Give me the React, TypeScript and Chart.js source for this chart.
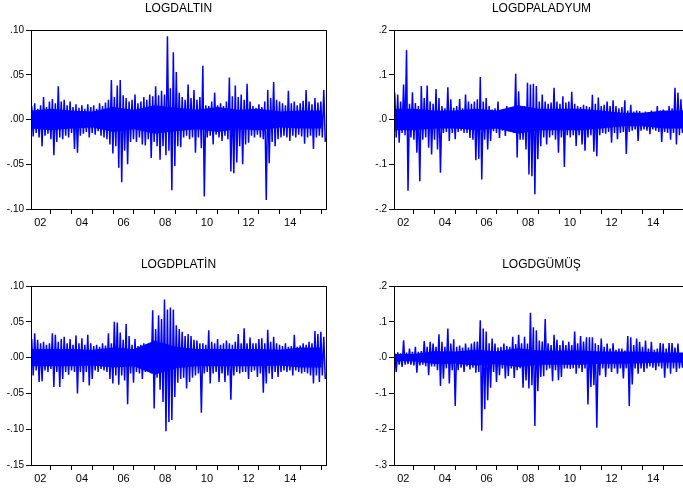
import React, { useEffect, useRef } from 'react';
import { Chart, registerables } from 'chart.js';

Chart.register(...registerables);

// ---- Time axis (years) ----
const X_MIN = 2002.054;
const X_MAX = 2016.22;
const TICK_YEARS = [2003, 2004, 2005, 2006, 2007, 2008, 2009, 2010, 2011, 2012, 2013, 2014, 2015, 2016];
const LABEL_YEARS = [2002, 2004, 2006, 2008, 2010, 2012, 2014];
const LABEL_TEXT = ['02', '04', '06', '08', '10', '12', '14'];
const CORE_YEARS = [2002, 2003, 2004, 2005, 2006, 2007, 2008, 2009, 2010, 2011, 2012, 2013, 2014, 2015, 2016];

// ---- Series: per-period highs and lows of daily log returns ----
const goldHi = [
  .015, .018, .012, .016, .025, .014, .020, .023, .018, .037,
  .020, .022, .016, .020, .014, .017, .013, .016, .012, .017,
  .014, .016, .012, .018, .015, .019, .022, .044, .025, .038,
  .044, .027, .024, .020, .022, .028, .018, .020, .025, .022,
  .028, .026, .037, .027, .032, .028, .093, .035, .075, .053,
  .030, .025, .022, .039, .024, .033, .022, .025, .060, .016,
  .015, .020, .030, .016, .018, .015, .020, .047, .026, .038,
  .025, .028, .022, .040, .020, .015, .013, .017, .014, .020,
  .033, .024, .042, .022, .020, .018, .016, .032, .018, .020,
  .016, .018, .021, .033, .020, .017, .024, .019, .020, .033,
];
const goldLo = [
  -.019, -.015, -.020, -.030, -.018, -.016, -.022, -.040, -.025, -.020,
  -.022, -.018, -.020, -.015, -.033, -.037, -.018, -.016, -.014, -.020,
  -.015, -.017, -.013, -.018, -.020, -.022, -.028, -.038, -.030, -.054,
  -.070, -.035, -.050, -.025, -.022, -.025, -.020, -.028, -.029, -.022,
  -.043, -.025, -.030, -.045, -.030, -.040, -.035, -.079, -.052, -.030,
  -.031, -.020, -.018, -.022, -.020, -.037, -.020, -.032, -.086, -.020,
  -.018, -.028, -.017, -.020, -.024, -.018, -.022, -.058, -.060, -.048,
  -.030, -.050, -.028, -.026, -.018, -.020, -.017, -.020, -.022, -.090,
  -.049, -.025, -.030, -.022, -.020, -.018, -.020, -.024, -.018, -.020,
  -.017, -.019, -.027, -.020, -.018, -.033, -.020, -.018, -.020, -.025,
];
const goldCoreHi = [.010, .012, .010, .009, .014, .011, .016, .013, .011, .014, .011, .012, .009, .010, .010];
const goldCoreLo = [-.010, -.012, -.010, -.009, -.014, -.011, -.016, -.013, -.011, -.014, -.011, -.012, -.009, -.010, -.010];

const palHi = [
  .060, .056, .040, .078, .155, .035, .061, .037, .030, .075,
  .048, .076, .040, .035, .068, .048, .030, .025, .072, .045,
  .026, .030, .046, .025, .056, .040, .035, .040, .045, .095,
  .040, .048, .030, .022, .025, .040, .020, .022, .030, .020,
  .018, .102, .063, .030, .030, .082, .078, .080, .075, .040,
  .056, .040, .035, .038, .071, .040, .035, .052, .038, .040,
  .062, .035, .030, .028, .033, .030, .028, .055, .035, .049,
  .030, .033, .040, .030, .043, .030, .025, .028, .043, .020,
  .033, .018, .020, .019, .015, .018, .016, .020, .017, .030,
  .020, .022, .019, .030, .025, .071, .060, .045, .035, .030,
];
const palLo = [
  -.040, -.052, -.030, -.035, -.159, -.040, -.045, -.074, -.138, -.045,
  -.040, -.063, -.078, -.045, -.067, -.119, -.030, -.028, -.048, -.030,
  -.044, -.028, -.025, -.030, -.030, -.041, -.045, -.091, -.088, -.134,
  -.045, -.067, -.048, -.026, -.030, -.041, -.025, -.037, -.026, -.028,
  -.030, -.085, -.045, -.045, -.067, -.123, -.127, -.167, -.089, -.060,
  -.040, -.056, -.040, -.035, -.045, -.074, -.040, -.106, -.035, -.040,
  -.035, -.059, -.035, -.056, -.070, -.040, -.035, -.072, -.082, -.035,
  -.030, -.032, -.028, -.052, -.030, -.044, -.030, -.028, -.077, -.028,
  -.025, -.022, -.048, -.025, -.022, -.025, -.033, -.022, -.025, -.028,
  -.050, -.028, -.030, -.045, -.030, -.056, -.035, -.030, -.054, -.040,
];
const palCoreHi = [.024, .024, .020, .020, .024, .020, .032, .024, .024, .024, .020, .015, .015, .020, .020];
const palCoreLo = [-.024, -.024, -.020, -.020, -.024, -.020, -.032, -.024, -.024, -.024, -.020, -.015, -.015, -.020, -.020];

const platHi = [
  .026, .034, .025, .020, .022, .018, .020, .034, .032, .022,
  .026, .029, .020, .026, .018, .031, .020, .027, .018, .032,
  .020, .016, .018, .015, .020, .017, .034, .020, .050, .049,
  .035, .025, .047, .030, .018, .026, .016, .018, .020, .017,
  .020, .066, .040, .059, .054, .081, .067, .070, .067, .045,
  .040, .036, .030, .033, .030, .025, .024, .020, .020, .018,
  .038, .022, .020, .026, .018, .020, .024, .020, .018, .022,
  .033, .020, .041, .020, .028, .020, .020, .026, .027, .020,
  .039, .022, .029, .020, .018, .016, .020, .015, .016, .032,
  .015, .017, .020, .018, .022, .020, .037, .033, .036, .029,
];
const platLo = [
  -.025, -.018, -.034, -.033, -.018, -.020, -.016, -.041, -.020, -.041,
  -.030, -.020, -.024, -.018, -.020, -.050, -.020, -.034, -.020, -.039,
  -.030, -.018, -.020, -.016, -.018, -.020, -.030, -.036, -.025, -.038,
  -.025, -.032, -.065, -.022, -.035, -.020, -.022, -.030, -.020, -.018,
  -.022, -.071, -.028, -.045, -.062, -.103, -.090, -.087, -.055, -.035,
  -.030, -.028, -.043, -.034, -.028, -.025, -.022, -.077, -.022, -.020,
  -.036, -.022, -.020, -.034, -.022, -.034, -.025, -.059, -.025, -.020,
  -.022, -.020, -.020, -.030, -.020, -.018, -.027, -.022, -.049, -.036,
  -.022, -.030, -.020, -.027, -.020, -.018, -.020, -.018, -.025, -.018,
  -.020, -.022, -.020, -.022, -.025, -.036, -.025, -.034, -.025, -.030,
];
const platCoreHi = [.012, .012, .012, .011, .014, .012, .024, .015, .012, .012, .012, .012, .011, .014, .014];
const platCoreLo = [-.012, -.012, -.012, -.011, -.014, -.012, -.024, -.015, -.012, -.012, -.012, -.012, -.011, -.014, -.014];

const silvHi = [
  .012, .015, .012, .048, .014, .025, .016, .030, .016, .018,
  .046, .030, .044, .039, .030, .065, .044, .030, .081, .039,
  .051, .030, .034, .028, .039, .028, .039, .044, .045, .104,
  .081, .073, .040, .053, .039, .028, .030, .039, .032, .030,
  .058, .038, .064, .040, .058, .039, .125, .085, .076, .048,
  .045, .108, .040, .035, .064, .050, .035, .048, .035, .044,
  .035, .073, .040, .060, .045, .057, .057, .057, .040, .035,
  .053, .030, .039, .025, .040, .022, .025, .025, .020, .060,
  .057, .035, .053, .044, .030, .048, .025, .044, .022, .025,
  .041, .039, .025, .041, .041, .028, .039, .011, .020, .020,
];
const silvLo = [
  -.040, -.020, -.026, -.020, -.018, -.020, -.022, -.042, -.022, -.020,
  -.024, -.049, -.025, -.025, -.035, -.079, -.059, -.030, -.072, -.035,
  -.135, -.035, -.028, -.040, -.025, -.033, -.028, -.042, -.040, -.204,
  -.144, -.119, -.084, -.040, -.068, -.049, -.030, -.058, -.051, -.030,
  -.057, -.035, -.030, -.084, -.064, -.086, -.077, -.191, -.094, -.054,
  -.052, -.035, -.030, -.066, -.035, -.063, -.054, -.030, -.030, -.032,
  -.030, -.045, -.030, -.040, -.030, -.131, -.082, -.077, -.196, -.050,
  -.030, -.054, -.030, -.040, -.030, -.045, -.030, -.058, -.030, -.135,
  -.075, -.030, -.045, -.030, -.040, -.030, -.025, -.028, -.035, -.025,
  -.030, -.056, -.030, -.045, -.030, -.040, -.030, -.028, -.026, -.025,
];
const silvCoreHi = [.010, .010, .018, .017, .022, .018, .026, .020, .020, .020, .017, .017, .016, .014, .014];
const silvCoreLo = [-.010, -.010, -.018, -.017, -.022, -.018, -.026, -.020, -.020, -.020, -.017, -.017, -.016, -.014, -.014];

const FONT = "'Liberation Sans', Arial, sans-serif";
const CANVAS_W = 341;
const CANVAS_H = 240;
const BLUE = '#0000FF';

type Panel = {
  title: string;
  hi: number[];
  lo: number[];
  coreHi: number[];
  coreLo: number[];
  min: number;
  max: number;
  step: number;
  decimals: number;
  left: number;
  top: number;
};

const PANELS: Panel[] = [
  { title: 'LOGDALTIN', hi: goldHi, lo: goldLo, coreHi: goldCoreHi, coreLo: goldCoreLo, min: -0.1, max: 0.1, step: 0.05, decimals: 2, left: 0, top: 0 },
  { title: 'LOGDPALADYUM', hi: palHi, lo: palLo, coreHi: palCoreHi, coreLo: palCoreLo, min: -0.2, max: 0.2, step: 0.1, decimals: 1, left: 363, top: 0 },
  { title: 'LOGDPLATİN', hi: platHi, lo: platLo, coreHi: platCoreHi, coreLo: platCoreLo, min: -0.15, max: 0.1, step: 0.05, decimals: 2, left: 0, top: 256 },
  { title: 'LOGDGÜMÜŞ', hi: silvHi, lo: silvLo, coreHi: silvCoreHi, coreLo: silvCoreLo, min: -0.3, max: 0.2, step: 0.1, decimals: 1, left: 363, top: 256 },
];

function buildSeries(hi: number[], lo: number[]) {
  const n = hi.length;
  const span = (X_MAX - X_MIN) / n;
  const pts: { x: number; y: number }[] = [];
  for (let i = 0; i < n; i++) {
    pts.push({ x: X_MIN + (i + 0.25) * span, y: hi[i] });
    pts.push({ x: X_MIN + (i + 0.75) * span, y: lo[i] });
  }
  return pts;
}

function buildCore(vals: number[]) {
  return vals.map((v, i) => ({ x: CORE_YEARS[i], y: v }));
}

function fmt(v: number, d: number) {
  if (Math.abs(v) < 1e-9) v = 0;
  const s = v.toFixed(d);
  return s.replace(/^(-?)0\./, '$1.');
}

const framePlugin = {
  id: 'frame',
  afterDraw(chart: any) {
    const { ctx, chartArea: a } = chart;
    ctx.save();
    ctx.strokeStyle = '#000';
    ctx.lineWidth = 1;
    const l = Math.floor(a.left) + 0.5;
    const t = Math.floor(a.top) + 0.5;
    const r = Math.floor(a.right) + 0.5;
    const b = Math.floor(a.bottom) + 0.5;
    ctx.strokeRect(l, t, r - l, b - t);
    ctx.restore();
  },
};

function PanelChart({ p }: { p: Panel }) {
  const ref = useRef<HTMLCanvasElement | null>(null);
  useEffect(() => {
    if (!ref.current) return;
    const chart = new Chart(ref.current, {
      type: 'line',
      data: {
        datasets: [
          {
            data: buildSeries(p.hi, p.lo),
            borderColor: BLUE,
            borderWidth: 1.5,
            borderJoinStyle: 'bevel',
            pointRadius: 0,
            tension: 0,
            fill: false,
          },
          {
            data: buildCore(p.coreHi),
            borderWidth: 0,
            borderColor: 'rgba(0,0,0,0)',
            backgroundColor: BLUE,
            pointRadius: 0,
            tension: 0,
            fill: '+1',
          },
          {
            data: buildCore(p.coreLo),
            borderWidth: 0,
            borderColor: 'rgba(0,0,0,0)',
            backgroundColor: BLUE,
            pointRadius: 0,
            tension: 0,
            fill: false,
          },
        ],
      },
      options: {
        responsive: false,
        animation: false,
        devicePixelRatio: 1,
        layout: { padding: { left: 0, right: 15, top: 0, bottom: 0 } },
        plugins: {
          legend: { display: false },
          tooltip: { enabled: false },
          filler: { propagate: false },
          title: {
            display: true,
            text: p.title,
            fullSize: false,
            color: '#000',
            font: { family: FONT, size: 12, weight: 'normal' },
            padding: { top: 1, bottom: 14.6 },
          },
        },
        scales: {
          x: {
            type: 'linear',
            min: X_MIN,
            max: X_MAX,
            afterBuildTicks: (s: any) => {
              const t = [
                ...TICK_YEARS.map((v) => ({ value: v })),
                ...LABEL_YEARS.map((v) => ({ value: v + 0.5 })),
              ];
              t.sort((a, b) => a.value - b.value);
              s.ticks = t;
            },
            afterFit: (s: any) => {
              s.height = 31;
            },
            grid: {
              drawOnChartArea: false,
              drawTicks: true,
              tickLength: 5,
              tickColor: (c: any) =>
                c.tick && Number.isInteger(c.tick.value) ? '#000' : 'rgba(0,0,0,0)',
            },
            border: { display: false },
            ticks: {
              autoSkip: false,
              maxRotation: 0,
              minRotation: 0,
              padding: 2,
              color: '#000',
              font: { family: FONT, size: 11 },
              callback: (v: any) => {
                const val = Number(v);
                if (Number.isInteger(val)) return '';
                const idx = LABEL_YEARS.indexOf(Math.round(val - 0.5));
                return idx >= 0 ? LABEL_TEXT[idx] : '';
              },
            },
          },
          y: {
            min: p.min,
            max: p.max,
            afterFit: (s: any) => {
              s.width = 31;
            },
            grid: {
              drawOnChartArea: false,
              drawTicks: true,
              tickLength: 5,
              tickColor: '#000',
            },
            border: { display: false },
            ticks: {
              stepSize: p.step,
              padding: 2,
              color: '#000',
              font: { family: FONT, size: 10 },
              callback: (v: any) => fmt(Number(v), p.decimals),
            },
          },
        },
      },
      plugins: [framePlugin],
    } as any);
    return () => chart.destroy();
  }, [p]);
  return (
    <canvas
      ref={ref}
      width={CANVAS_W}
      height={CANVAS_H}
      style={{ position: 'absolute', left: p.left, top: p.top, width: CANVAS_W, height: CANVAS_H }}
    />
  );
}

export default function App() {
  return (
    <div
      style={{
        position: 'absolute',
        left: 0,
        top: 0,
        width: 683,
        height: 488,
        overflow: 'hidden',
        background: '#fff',
      }}
    >
      {PANELS.map((p) => (
        <PanelChart key={p.title} p={p} />
      ))}
    </div>
  );
}
